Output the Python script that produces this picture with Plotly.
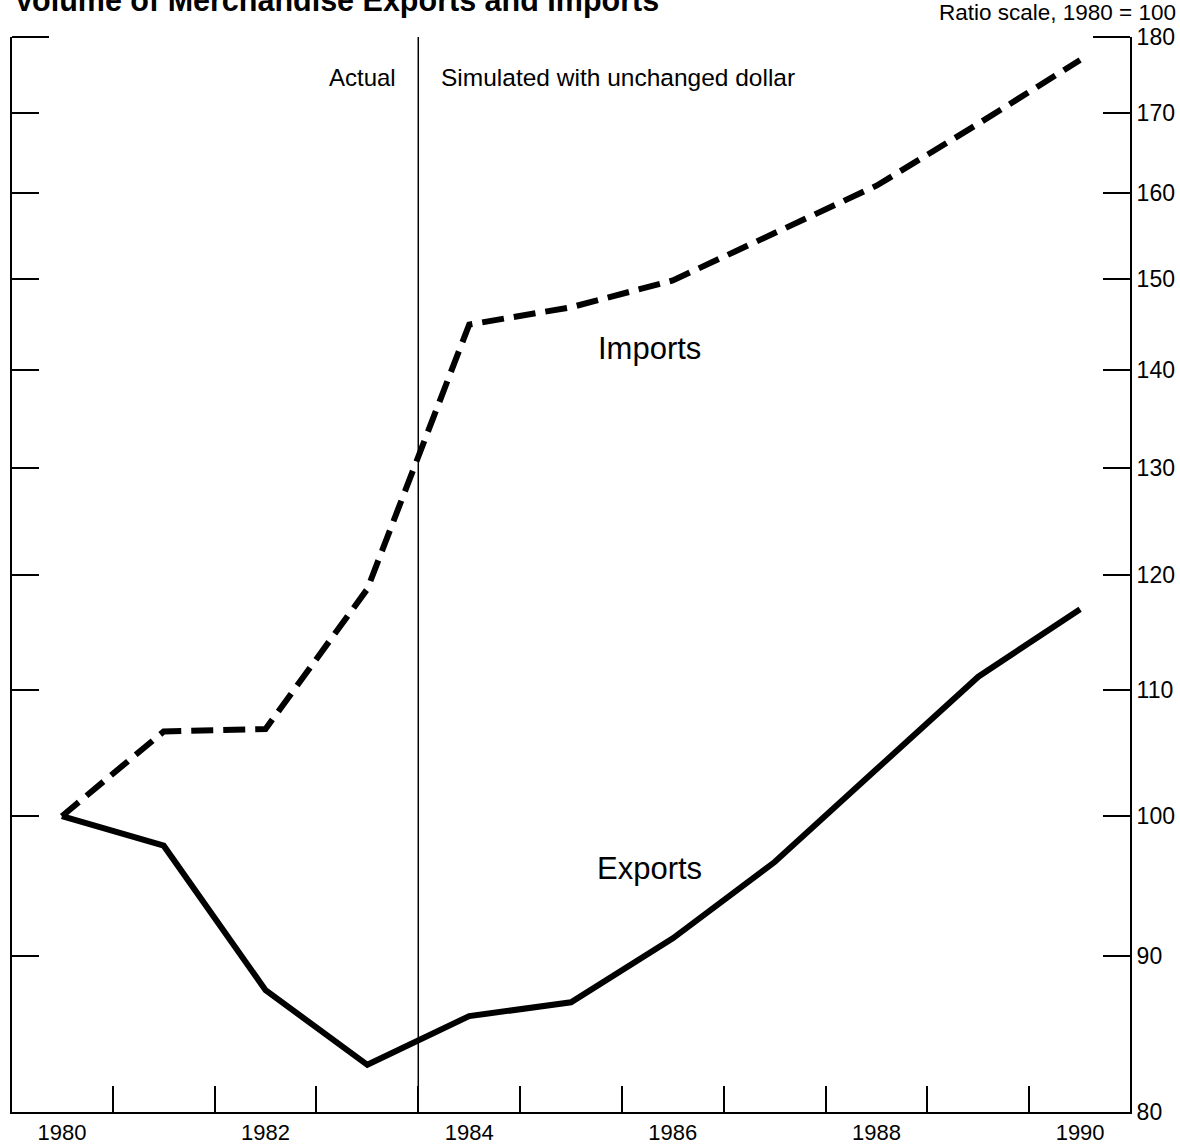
import math
import plotly.graph_objects as go

years = [1980, 1981, 1982, 1983, 1984, 1985, 1986, 1987, 1988, 1989, 1990]
imports = [100, 106.6, 106.8, 118.7, 144.9, 146.8, 149.8, 155.2, 160.9, 168.6, 176.9]
exports = [100, 97.8, 87.7, 82.9, 86.0, 86.9, 91.2, 96.6, 103.6, 111.1, 116.9]

y_ticks = [80, 90, 100, 110, 120, 130, 140, 150, 160, 170, 180]
x_label_years = [1980, 1982, 1984, 1986, 1988, 1990]
x_minor_ticks = [1980.5, 1981.5, 1982.5, 1983.5, 1984.5, 1985.5, 1986.5, 1987.5, 1988.5, 1989.5]
divider_year = 1983.5

FONT = "Liberation Sans, Arial, Helvetica, sans-serif"
W, H = 1180, 1144
ML, MR, MT, MB = 12, 50, 37, 32
PW, PH = W - ML - MR, H - MT - MB


def py(px_from_top):
    return (H - MB - px_from_top) / PH


def pxx(px_from_left):
    return (px_from_left - ML) / PW


fig = go.Figure()
fig.add_trace(go.Scatter(x=years, y=imports, mode="lines", name="Imports",
                         line=dict(color="black", width=6, dash="22px,10px")))
fig.add_trace(go.Scatter(x=years, y=exports, mode="lines", name="Exports",
                         line=dict(color="black", width=6)))

fig.add_shape(type="line", x0=divider_year, x1=divider_year, xref="x",
              y0=0, y1=1, yref="paper", line=dict(color="black", width=1.5))
# longer corner ticks at the top of the frame
fig.add_shape(type="line", x0=0, x1=37 / PW, xref="paper", y0=1, y1=1, yref="paper",
              line=dict(color="black", width=2))
fig.add_shape(type="line", x0=1 - 37 / PW, x1=1, xref="paper", y0=1, y1=1, yref="paper",
              line=dict(color="black", width=2))

annotations = [
    dict(text="<b>Volume of Merchandise Exports and Imports</b>", x=pxx(12), y=py(0),
         xanchor="left", yanchor="middle", font=dict(size=30.5, family=FONT, color="black")),
    dict(text="Ratio scale, 1980 = 100", x=pxx(1178), y=py(13),
         xanchor="right", yanchor="middle", font=dict(size=22.5, family=FONT, color="black")),
    dict(text="Actual", x=pxx(398), y=py(78), xanchor="right", yanchor="middle",
         font=dict(size=24, family=FONT, color="black")),
    dict(text="Simulated with unchanged dollar", x=pxx(439), y=py(78), xanchor="left",
         yanchor="middle", font=dict(size=24.5, family=FONT, color="black")),
    dict(text="Imports", x=pxx(649), y=py(348), xanchor="center", yanchor="middle",
         font=dict(size=31, family=FONT, color="black")),
    dict(text="Exports", x=pxx(649), y=py(868), xanchor="center", yanchor="middle",
         font=dict(size=31, family=FONT, color="black")),
]
for a in annotations:
    a.update(xref="paper", yref="paper", showarrow=False)

fig.update_layout(
    width=W, height=H,
    margin=dict(l=ML, r=MR, t=MT, b=MB, autoexpand=False),
    paper_bgcolor="white", plot_bgcolor="white",
    showlegend=False,
    annotations=annotations,
    font=dict(family=FONT, color="black", size=22),
    xaxis=dict(
        range=[1979.51, 1990.49], showgrid=False, zeroline=False,
        showline=True, linecolor="black", linewidth=2,
        tickmode="array", tickvals=x_label_years, ticktext=[str(v) for v in x_label_years],
        ticks="", tickfont=dict(size=22, family=FONT, color="black"),
        minor=dict(tickmode="array", tickvals=x_minor_ticks, ticks="inside",
                   ticklen=26, tickwidth=2, tickcolor="black", showgrid=False),
        automargin=False,
    ),
    yaxis=dict(
        type="log", range=[math.log10(80), math.log10(180)],
        side="right", showgrid=False, zeroline=False,
        showline=True, linecolor="black", linewidth=2, mirror="ticks",
        tickmode="array", tickvals=y_ticks, ticktext=[str(v) for v in y_ticks],
        ticks="inside", ticklen=27, tickwidth=2, tickcolor="black",
        tickfont=dict(size=23, family=FONT, color="black"),
        automargin=False,
    ),
)

fig.write_html("out.html", config={"displayModeBar": False},
               post_script="document.body.style.margin='0';")
